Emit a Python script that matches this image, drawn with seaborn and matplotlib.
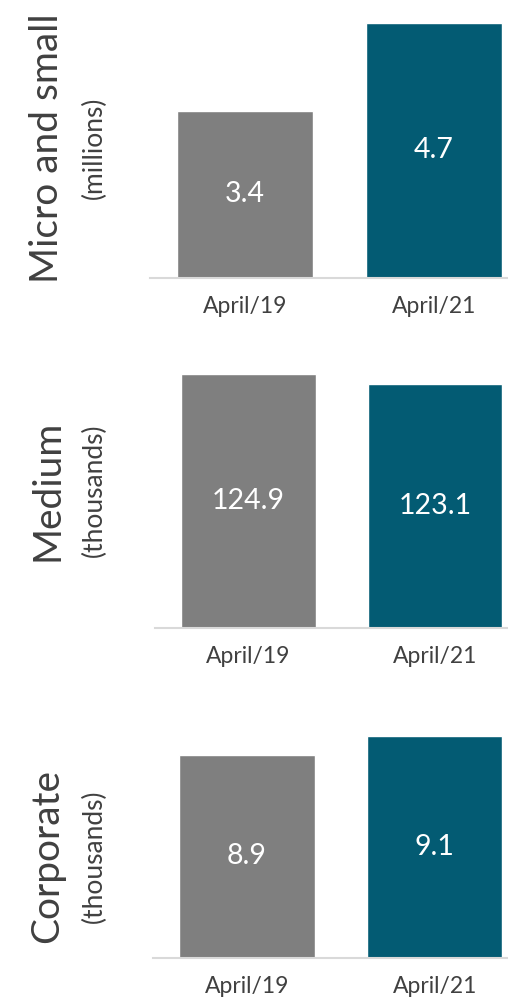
import matplotlib
matplotlib.use("Agg")
import matplotlib.pyplot as plt
import seaborn as sns
import pandas as pd

# Data
periods = ["April/19", "April/21"]
segments = ["Micro and small", "Medium", "Corporate"]
units = ["(millions)", "(thousands)", "(thousands)"]
micro_small = [3.4, 4.7]
medium = [124.9, 123.1]
corporate = [8.9, 9.1]
values = [micro_small, medium, corporate]

sns.set_theme(style="white")
plt.rcParams["font.family"] = ["Lato", "DejaVu Sans"]

GRAY = "#7f7f7f"
TEAL = "#035b73"
TEXT = "#404040"
AXIS = "#d9d9d9"

W, H = 508, 999
fig = plt.figure(figsize=(W / 100, H / 100), dpi=100)

# panel layout in pixels: (left, right, top, bottom), y-range of the value axis
layout = [
    ((150, 508, 0, 278), (0.93, 5.04), 148),
    ((155, 508, 340, 628), (77.8, 131.2), 490),
    ((153, 508, 680, 958), (6.76, 9.69), 856),
]

for (box, ylim, label_y), seg, unit, vals in zip(layout, segments, units, values):
    l, r, t, b = box
    ax = fig.add_axes([l / W, (H - b) / H, (r - l) / W, (b - t) / H])
    df = pd.DataFrame({"period": periods, "value": vals})
    sns.barplot(data=df, x="period", y="value", hue="period",
                palette=[GRAY, TEAL], width=0.72, legend=False, ax=ax,
                saturation=1)
    ax.set_xlim(-0.5, 1.39)
    ax.set_ylim(*ylim)
    for c in ax.containers:
        for bar, v in zip(c, c.datavalues):
            ax.text(bar.get_x() + bar.get_width() / 2,
                    (ylim[0] + v) / 2, f"{v:.1f}",
                    ha="center", va="center", color="white", fontsize=20.5)
    for side in ["top", "right", "left"]:
        ax.spines[side].set_visible(False)
    ax.spines["bottom"].set_color(AXIS)
    ax.spines["bottom"].set_linewidth(1.5)
    ax.set_yticks([])
    ax.set_xlabel("")
    ax.set_ylabel("")
    ax.tick_params(axis="x", length=0, pad=13, labelsize=16.5, labelcolor=TEXT)

    fig.text(47 / W, (H - label_y) / H, seg, rotation=90, ha="center",
             va="center", fontsize=28, color=TEXT)
    fig.text(94 / W, (H - label_y) / H, unit, rotation=90, ha="center",
             va="center", fontsize=19, color=TEXT)

fig.savefig("out.png", dpi=100)
